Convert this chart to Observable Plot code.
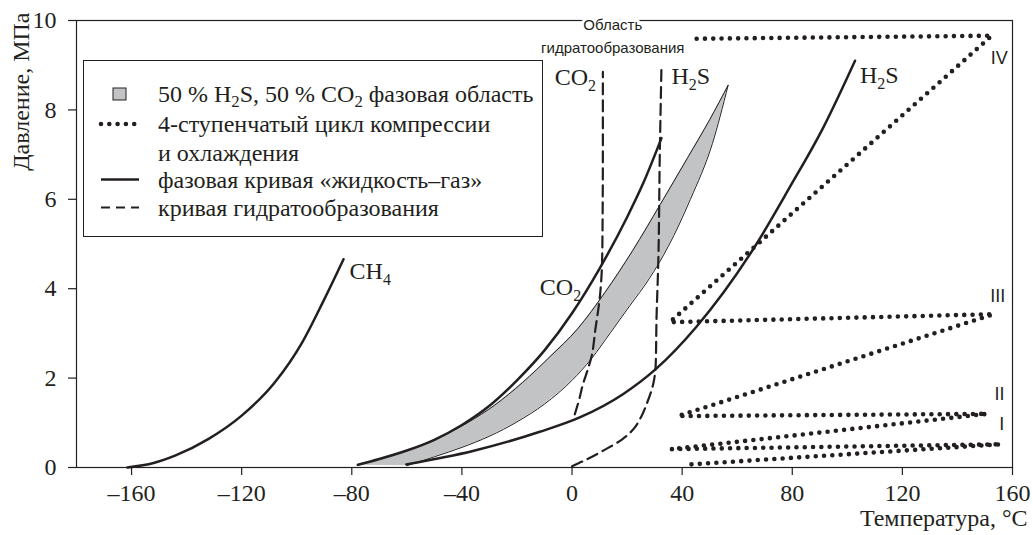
<!DOCTYPE html>
<html><head><meta charset="utf-8">
<script src="https://cdn.jsdelivr.net/npm/d3@7"></script>
<script src="https://cdn.jsdelivr.net/npm/@observablehq/plot@0.6"></script>
<style>
body{margin:0;background:#fff;}
#wrap{position:relative;width:1033px;height:535px;overflow:hidden;}
#legend{position:absolute;left:83px;top:60px;width:460px;height:177px;box-sizing:border-box;border:1.3px solid #231f20;background:#fff;font-family:"Liberation Serif","Times New Roman",serif;font-size:24px;color:#231f20;}
#legend .row{position:absolute;left:74px;white-space:nowrap;transform:translateY(-50%);line-height:1;}
#legend sub{font-size:70%;vertical-align:-0.28em;line-height:0;}
#legend svg{position:absolute;left:0;top:0;}
</style></head><body><div id="wrap"></div>
<script>
// ---- tick values ----
const tempTicks = [-160, -120, -80, -40, 0, 40, 80, 120, 160];
const pressTicks = [0, 2, 4, 6, 8, 10];

// ---- liquid–gas phase curves (T °C, P MPa) ----
const ch4T = [-161.5, -152, -144, -132, -120, -108, -98, -90.5, -83];
const ch4P = [0.0, 0.1, 0.27, 0.64, 1.16, 1.9, 2.8, 3.7, 4.66];

const co2T = [-77.8, -70, -60, -50, -40, -30, -20, -10, 0, 10, 20, 26, 32.5];
const co2P = [0.06, 0.19, 0.38, 0.62, 0.95, 1.38, 1.95, 2.62, 3.45, 4.45, 5.6, 6.38, 7.37];

const h2sT = [-60.2, -36, -11.7, 2.8, 18.5, 30.4, 45.2, 67, 79.1, 91.3, 102.8];
const h2sP = [0.07, 0.37, 0.8, 1.12, 1.64, 2.2, 3.15, 5.0, 6.27, 7.61, 9.1];

// ---- 50 % H2S / 50 % CO2 phase region (upper and lower boundaries) ----
const bandUpperT = [-78, -68, -58, -48, -38, -28, -18, -8, 2, 12, 22, 32, 42, 50, 56.7];
const bandUpperP = [0.05, 0.22, 0.42, 0.68, 1.0, 1.4, 1.9, 2.48, 3.1, 3.92, 4.85, 5.88, 6.93, 7.78, 8.55];
const bandLowerT = [-60, -50, -40, -30, -20, -10, 0, 7, 14, 21, 28, 35, 43, 51, 56.7];
const bandLowerP = [0.04, 0.24, 0.45, 0.7, 1.02, 1.42, 1.95, 2.43, 3.02, 3.62, 4.22, 4.95, 6.0, 7.25, 8.55];

// ---- hydrate-formation curves ----
const co2HydT = [1.0, 2.5, 4.0, 5.5, 7.0, 8.5, 10.1, 11.0, 11.2, 11.2];
const co2HydP = [1.19, 1.5, 1.87, 2.15, 2.46, 3.1, 3.81, 4.85, 7.09, 8.85];
const h2sHydT = [0, 6, 12, 18, 22.2, 25, 27.1, 29.5, 30.4, 30.7, 31.3, 31.9, 32.5];
const h2sHydP = [0.03, 0.2, 0.4, 0.62, 0.85, 1.12, 1.42, 1.87, 2.31, 3.36, 4.52, 7.09, 9.0];

// ---- 4-stage compression and cooling cycle ----
const cycleT = [43.4, 155.8, 36.1, 150.7, 38.5, 153.1, 35.5, 152.5, 42.8];
const cycleP = [0.07, 0.52, 0.41, 1.2, 1.15, 3.43, 3.25, 9.66, 9.59];

// ---- labels ----
const curveLabels = ["CH4", "CO2", "CO2", "H2S", "H2S"];
const curveLabelT = [-80.8, -11.7, -6.3, 36.1, 104.6];
const curveLabelP = [4.4, 4.04, 8.72, 8.75, 8.77];

const stageLabels = ["I", "II", "III", "IV"];
const stageLabelT = [156.1, 155.3, 154.6, 155.2];
const stageLabelP = [0.97, 1.64, 3.84, 9.15];

const regionTitle = ["Область"];
const regionSub = ["гидратообразования"];
const regionT = [14.8];
const regionTitleP = [9.89];
const regionSubP = [9.37];

const xTitle = ["Температура, °C"];
const yTitle = ["Давление, МПа"];

const legendItems = [
  "50 % H<sub>2</sub>S, 50 % CO<sub>2</sub> фазовая область",
  "4-ступенчатый цикл компрессии",
  "и охлаждения",
  "фазовая кривая «жидкость–газ»",
  "кривая гидратообразования"
];

// ---- build tables ----
const pts = (T, P) => T.map((t, i) => ({t, p: P[i]}));
const ch4 = pts(ch4T, ch4P), co2 = pts(co2T, co2P), h2s = pts(h2sT, h2sP);
const co2Hyd = pts(co2HydT, co2HydP), h2sHyd = pts(h2sHydT, h2sHydP);
const cycle = pts(cycleT, cycleP);
const bandUpper = pts(bandUpperT, bandUpperP), bandLower = pts(bandLowerT, bandLowerP);
const band = bandUpperT.map((t, i) => ({tu: t, pu: bandUpperP[i], tl: bandLowerT[i], pl: bandLowerP[i]}));
const cLabels = curveLabels.map((s, i) => ({s, t: curveLabelT[i], p: curveLabelP[i]}));
const sLabels = stageLabels.map((s, i) => ({s, t: stageLabelT[i], p: stageLabelP[i]}));

const INK = "#231f20";
const SERIF = "'Liberation Serif','Times New Roman',serif";
const SANS = "'Liberation Sans',Arial,sans-serif";
const NARROW = "'Liberation Sans Narrow','Arial Narrow','Liberation Sans',sans-serif";
const fmt = d => d < 0 ? "\u2013" + Math.abs(d) : String(d);

const solid = {x: "t", y: "p", stroke: INK, strokeWidth: 2.5, curve: "monotone-x"};
const dashed = {x: "t", y: "p", stroke: INK, strokeWidth: 2.2, strokeDasharray: "11 6", curve: "monotone-y"};

const chart = Plot.plot({
  width: 1033, height: 535,
  marginLeft: 76, marginRight: 21, marginTop: 20, marginBottom: 68,
  x: {domain: [-180, 160]},
  y: {domain: [0, 10]},
  style: {fontFamily: SERIF, color: INK, background: "#fff"},
  marks: [
    Plot.area(band, {x1: "tu", y1: "pu", x2: "tl", y2: "pl", fill: "#c2c3c5", curve: "monotone-x"}),
    Plot.line(bandUpper, {x: "t", y: "p", stroke: INK, strokeWidth: 1, curve: "monotone-x"}),
    Plot.line(bandLower, {x: "t", y: "p", stroke: INK, strokeWidth: 1, curve: "monotone-x"}),
    Plot.line(ch4, solid),
    Plot.line(co2, solid),
    Plot.line(h2s, solid),
    Plot.line(co2Hyd, dashed),
    Plot.line(h2sHyd, dashed),
    Plot.line(cycle, {x: "t", y: "p", stroke: INK, strokeWidth: 4.6, strokeDasharray: "0 8.3", strokeLinecap: "round", curve: "linear"}),
    Plot.frame({stroke: INK, strokeWidth: 1.2}),
    Plot.axisX({ticks: tempTicks, tickSize: 8, tickPadding: 8, fontSize: 24, tickFormat: fmt, label: null, strokeWidth: 1.2}),
    Plot.axisY({ticks: pressTicks, tickSize: 8, tickPadding: 12, fontSize: 24, label: null, strokeWidth: 1.2}),
    Plot.text(cLabels, {x: "t", y: "p", text: "s", textAnchor: "start", fontSize: 24, fontFamily: SERIF, fill: INK}),
    Plot.text(sLabels, {x: "t", y: "p", text: "s", fontSize: 18, fontFamily: NARROW, fill: INK}),
    Plot.text(regionTitle, {x: () => regionT[0], y: () => regionTitleP[0], text: d => d, fontSize: 15, fontFamily: SANS, fill: INK, stroke: "#fff", strokeWidth: 6}),
    Plot.text(regionSub, {x: () => regionT[0], y: () => regionSubP[0], text: d => d, fontSize: 15, fontFamily: SANS, fill: INK}),
    Plot.text(xTitle, {text: d => d, frameAnchor: "bottom-right", dx: 15, dy: 58, textAnchor: "end", fontSize: 24, fill: INK}),
    Plot.text(yTitle, {text: d => d, frameAnchor: "top-left", rotate: -90, dx: -65, dy: -8, textAnchor: "end", fontSize: 24, fill: INK})
  ]
});

// chemical subscripts in curve labels
chart.querySelectorAll("text").forEach(el => {
  const m = /^([A-Z][A-Za-z]*?)(\d)(.*)$/.exec(el.textContent);
  if (!m || el.children.length) return;
  el.textContent = "";
  const ns = "http://www.w3.org/2000/svg";
  const a = document.createElementNS(ns, "tspan"); a.textContent = m[1];
  const b = document.createElementNS(ns, "tspan"); b.textContent = m[2];
  b.setAttribute("font-size", "16"); b.setAttribute("dy", "6");
  el.append(a, b);
  if (m[3]) { const c = document.createElementNS(ns, "tspan"); c.textContent = m[3]; c.setAttribute("dy", "-6"); el.append(c); }
});

const wrap = document.getElementById("wrap");
wrap.append(chart);

// legend (box inside the plot frame)
const leg = document.createElement("div");
leg.id = "legend";
const rowsY = [33, 63, 91.5, 118.5, 146.5];
leg.innerHTML = `<svg width="460" height="177">
  <rect x="29" y="27" width="13" height="12" fill="#c2c3c5" stroke="${INK}" stroke-width="1"/>
  <line x1="17" x2="55" y1="63" y2="63" stroke="${INK}" stroke-width="4.6" stroke-dasharray="0 8.3" stroke-linecap="round"/>
  <line x1="17" x2="55" y1="118.5" y2="118.5" stroke="${INK}" stroke-width="2.5"/>
  <line x1="17" x2="55" y1="146.5" y2="146.5" stroke="${INK}" stroke-width="2.2" stroke-dasharray="9 6"/>
</svg>` + legendItems.map((t, i) => `<div class="row" style="top:${rowsY[i]}px">${t}</div>`).join("");
wrap.append(leg);
</script>
</body></html>
